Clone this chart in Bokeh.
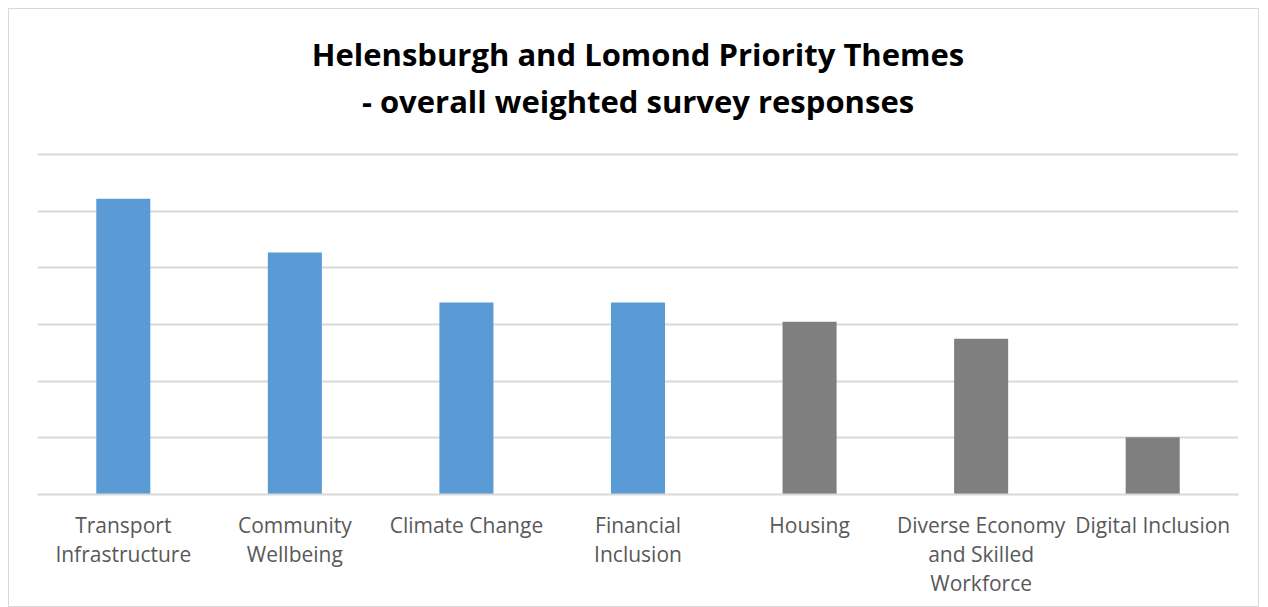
from bokeh.plotting import figure
from bokeh.models import ColumnDataSource, FixedTicker, Label
from bokeh.transform import factor_cmap
from bokeh.embed import file_html
from bokeh.resources import INLINE

categories = ["Transport Infrastructure", "Community Wellbeing", "Climate Change",
              "Financial Inclusion", "Housing", "Diverse Economy and Skilled Workforce",
              "Digital Inclusion"]
values = [5.22, 4.27, 3.39, 3.39, 3.05, 2.75, 1.01]
groups = ["priority", "priority", "priority", "priority", "other", "other", "other"]
tick_labels = ["Transport\nInfrastructure", "Community\nWellbeing", "Climate Change",
               "Financial\nInclusion", "Housing", "Diverse Economy\nand Skilled\nWorkforce",
               "Digital Inclusion"]
title_lines = ["Helensburgh and Lomond Priority Themes", "- overall weighted survey responses"]
y_max = 6

W, H = 1251, 599
BL, BR, BB = 28, 22, 114
frame_w = W - BL - BR
frame_h = H - BB            # frame reaches the top; the title lives inside it
plot_px = 340               # pixel height of the 0..y_max value area
y_end = y_max * frame_h / plot_px

positions = list(range(len(categories)))
src = ColumnDataSource(dict(x=positions, cat=categories, val=values, grp=groups))

p = figure(x_range=(-0.5, len(categories) - 0.5), y_range=(0, y_end),
           width=W, height=H,
           output_backend="svg", toolbar_location=None,
           min_border_left=BL, min_border_right=BR, min_border_top=0,
           min_border_bottom=BB)
p.styles = {"border": "1px solid #d9d9d9", "margin-left": "8px", "margin-top": "8px"}

for txt, dy in zip(title_lines, [101, 54]):
    p.add_layout(Label(x=frame_w / 2, y=plot_px + dy, x_units="screen", y_units="screen",
                       text=txt, text_align="center", text_baseline="middle",
                       text_font="Open Sans", text_font_style="bold",
                       text_font_size="31px", text_color="#000000"))

p.vbar(x="x", top="val", width=0.315, source=src, line_color=None,
       fill_color=factor_cmap("grp", palette=["#5b9bd5", "#7f7f7f"],
                              factors=["priority", "other"]))

p.yaxis.visible = False
p.ygrid.ticker = FixedTicker(ticks=list(range(1, y_max + 1)))
p.ygrid.grid_line_color = "#d9d9d9"
p.ygrid.grid_line_width = 2
p.xgrid.grid_line_color = None

p.xaxis.ticker = FixedTicker(ticks=positions)
p.xaxis.axis_line_color = "#d9d9d9"
p.xaxis.axis_line_width = 2
p.xaxis.major_tick_line_color = None
p.xaxis.minor_tick_line_color = None
p.xaxis.major_label_overrides = {i: lab for i, lab in zip(positions, tick_labels)}
p.xaxis.major_label_text_font = "Open Sans"
p.xaxis.major_label_text_font_size = "21px"
p.xaxis.major_label_text_color = "#595959"
p.xaxis.major_label_text_line_height = 1.05
p.xaxis.major_label_standoff = 10

p.outline_line_color = None
p.background_fill_color = "white"
p.border_fill_color = "white"

open("out.html", "w").write(file_html(p, INLINE))
